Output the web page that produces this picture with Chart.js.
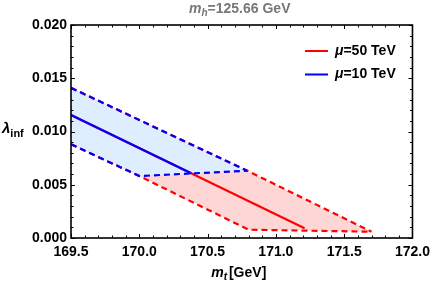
<!DOCTYPE html>
<html>
<head>
<meta charset="utf-8">
<script src="https://cdn.jsdelivr.net/npm/chart.js@4.4.0/dist/chart.umd.min.js"></script>
<style>
  html, body { margin: 0; padding: 0; background: #fff; }
  #wrap { width: 436px; height: 284px; }
</style>
</head>
<body>
<div id="wrap"><canvas id="myChart" width="436" height="284"></canvas></div>
<script>
// m_t [GeV] and lambda_inf values
const blueCentralX = [169.5, 170.38];
const blueCentralY = [0.01155, 0.00607];
const blueUpperX = [169.5, 170.79];
const blueUpperY = [0.0141, 0.00632];
const blueLowerX = [169.5, 170.0, 170.79];
const blueLowerY = [0.0088, 0.00582, 0.00632];

const redCentralX = [169.5, 171.21];
const redCentralY = [0.01155, 0.00091];
const redUpperX = [169.5, 170.79, 171.7];
const redUpperY = [0.0141, 0.00632, 0.00059];
const redLowerX = [169.5, 170.0, 170.8, 171.7];
const redLowerY = [0.0088, 0.00582, 0.00078, 0.00059];

const xTicks = [169.5, 170.0, 170.5, 171.0, 171.5, 172.0];
const yTicks = [0.000, 0.005, 0.010, 0.015, 0.020];
const legendLabels = ['50 TeV', '10 TeV'];

const RED = '#ff0000';
const BLUE = '#0000ff';
const FONT = '"Liberation Sans", Arial, sans-serif';

function pts(xs, ys) {
    return xs.map((x, i) => ({ x: x, y: ys[i] }));
}

// draw a run of text pieces: {t, it (italic), sub (subscript)}
function richText(c, pieces, x, y, size, color, align) {
    c.save();
    c.fillStyle = color;
    c.textBaseline = 'middle';
    c.textAlign = 'left';
    const fontOf = p => (p.it ? 'italic ' : '') + 'bold ' + (p.sub ? Math.round(size * 0.72) : size) + 'px ' + FONT;
    let w = 0;
    pieces.forEach(p => { c.font = fontOf(p); w += c.measureText(p.t).width + (p.gap || 0); });
    let cx = align === 'center' ? x - w / 2 : x;
    pieces.forEach(p => {
        c.font = fontOf(p);
        c.fillText(p.t, cx, p.sub ? y + size * 0.3 : y);
        cx += c.measureText(p.t).width + (p.gap || 0);
    });
    c.restore();
}

const framePlugin = {
    id: 'frame',
    afterDraw(chart) {
        const c = chart.ctx;
        const a = chart.chartArea;
        const xs = chart.scales.x, ys = chart.scales.y;
        c.save();
        c.strokeStyle = '#000';
        c.lineWidth = 1.6;
        c.strokeRect(a.left, a.top, a.right - a.left, a.bottom - a.top);
        c.lineWidth = 1;
        c.beginPath();
        for (let i = 0; i <= 25; i++) {
            const v = 169.5 + i * 0.1;
            const px = Math.round(xs.getPixelForValue(v)) + 0.5;
            const len = i % 5 === 0 ? 4 : 2.5;
            c.moveTo(px, a.bottom); c.lineTo(px, a.bottom - len);
            c.moveTo(px, a.top); c.lineTo(px, a.top + len);
        }
        for (let i = 0; i <= 20; i++) {
            const v = i * 0.001;
            const py = Math.round(ys.getPixelForValue(v)) + 0.5;
            const len = i % 5 === 0 ? 4 : 2.5;
            c.moveTo(a.left, py); c.lineTo(a.left + len, py);
            c.moveTo(a.right, py); c.lineTo(a.right - len, py);
        }
        c.stroke();

        // legend
        const cols = [RED, BLUE];
        legendLabels.forEach((lab, i) => {
            const y = 51 + i * 23.5;
            c.strokeStyle = cols[i];
            c.lineWidth = 2;
            c.beginPath(); c.moveTo(305, y); c.lineTo(328, y); c.stroke();
            richText(c, [{ t: '\u03bc', it: true }, { t: '=' + lab }], 335, y, 14, '#000', 'left');
        });

        // title and axis titles
        richText(c, [{ t: 'm', it: true }, { t: 'h', it: true, sub: true }, { t: '=125.66 GeV' }],
            (a.left + a.right) / 2 - 2, 9, 14, '#777777', 'center');
        richText(c, [{ t: 'm', it: true }, { t: 't', it: true, sub: true, gap: 2 }, { t: '[GeV]' }],
            (a.left + a.right) / 2 - 3, 273, 14, '#000', 'center');
        richText(c, [{ t: '\u03bb', it: true }, { t: 'inf', sub: true }], 2, 129, 15, '#000', 'left');
        c.restore();
    }
};

const ctx = document.getElementById('myChart').getContext('2d');

const myChart = new Chart(ctx, {
    type: 'line',
    data: {
        datasets: [{
            label: 'mu=10 TeV',
            data: pts(blueCentralX, blueCentralY),
            borderColor: BLUE,
            borderWidth: 2.2
        }, {
            label: 'mu=10 TeV upper',
            data: pts(blueUpperX, blueUpperY),
            borderColor: BLUE,
            borderWidth: 2.2,
            borderDash: [6, 4],
            backgroundColor: 'rgb(222, 238, 255)',
            fill: '+1'
        }, {
            label: 'mu=10 TeV lower',
            data: pts(blueLowerX, blueLowerY),
            borderColor: BLUE,
            borderWidth: 2.2,
            borderDash: [6, 4]
        }, {
            label: 'mu=50 TeV',
            data: pts(redCentralX, redCentralY),
            borderColor: RED,
            borderWidth: 2.2
        }, {
            label: 'mu=50 TeV upper',
            data: pts(redUpperX, redUpperY),
            borderColor: RED,
            borderWidth: 2.2,
            borderDash: [6, 4],
            backgroundColor: 'rgb(255, 214, 214)',
            fill: '+1'
        }, {
            label: 'mu=50 TeV lower',
            data: pts(redLowerX, redLowerY),
            borderColor: RED,
            borderWidth: 2.2,
            borderDash: [6, 4]
        }]
    },
    options: {
        responsive: false,
        animation: false,
        devicePixelRatio: 1,
        layout: { padding: { top: 25, right: 19, left: 0, bottom: 0 } },
        elements: { point: { radius: 0 }, line: { tension: 0 } },
        plugins: {
            legend: { display: false },
            tooltip: { enabled: false },
            filler: { drawTime: 'beforeDatasetsDraw' }
        },
        scales: {
            x: {
                type: 'linear',
                min: 169.5,
                max: 172.0,
                afterBuildTicks: s => { s.ticks = xTicks.map(v => ({ value: v })); },
                afterFit: s => { s.height = 46; },
                grid: { display: false, drawTicks: false },
                border: { display: false },
                ticks: {
                    padding: 6,
                    maxRotation: 0,
                    color: '#000',
                    font: { family: FONT, size: 14, weight: 'bold' },
                    callback: v => v.toFixed(1)
                }
            },
            y: {
                type: 'linear',
                min: 0,
                max: 0.02,
                afterBuildTicks: s => { s.ticks = yTicks.map(v => ({ value: v })); },
                afterFit: s => { s.width = 71; },
                grid: { display: false, drawTicks: false },
                border: { display: false },
                ticks: {
                    padding: 4,
                    color: '#000',
                    font: { family: FONT, size: 14, weight: 'bold' },
                    callback: v => v.toFixed(3)
                }
            }
        }
    },
    plugins: [framePlugin]
});
</script>
</body>
</html>
